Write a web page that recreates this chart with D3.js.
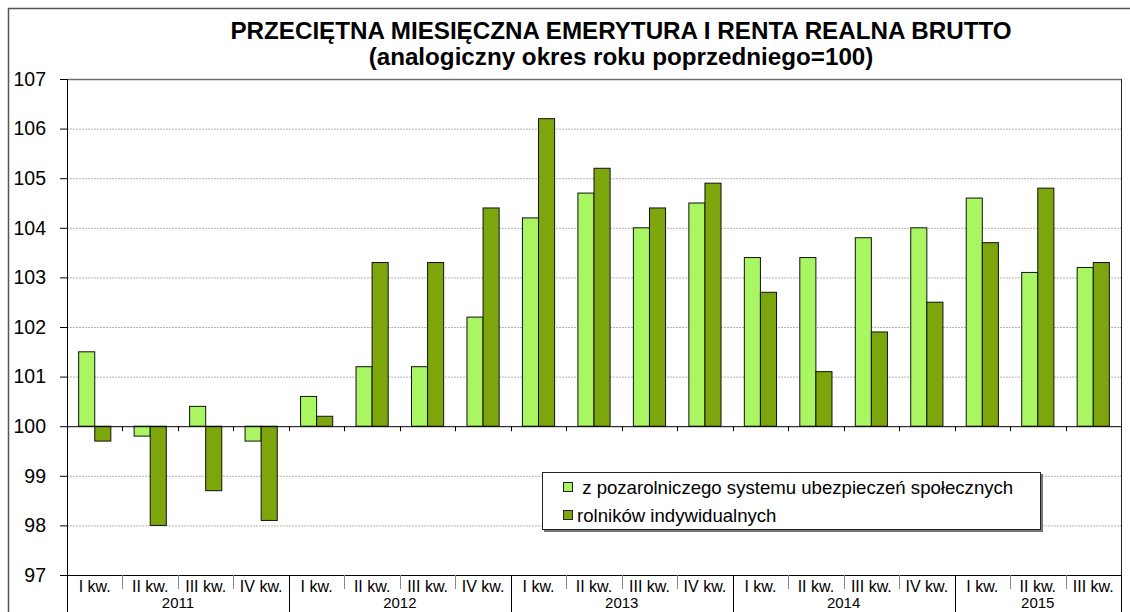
<!DOCTYPE html>
<html>
<head>
<meta charset="utf-8">
<script src="https://cdn.jsdelivr.net/npm/d3@7"></script>
<style>
  body { margin: 0; background: #fff; }
  svg { font-family: "Liberation Sans", Arial, sans-serif; }
</style>
</head>
<body>
<svg id="chart" width="1130" height="612"></svg>
<script>
// data
const quarters = ['I kw.', 'II kw.', 'III kw.', 'IV kw.', 'I kw.', 'II kw.', 'III kw.', 'IV kw.',
    'I kw.', 'II kw.', 'III kw.', 'IV kw.', 'I kw.', 'II kw.', 'III kw.', 'IV kw.',
    'I kw.', 'II kw.', 'III kw.']
const years = ['2011', '2012', '2013', '2014', '2015']
const yearSpans = [4, 4, 4, 4, 3]
const nonAgri = [101.5, 99.8, 100.4, 99.7, 100.6, 101.2, 101.2, 102.2, 104.2, 104.7, 104.0, 104.5,
    103.4, 103.4, 103.8, 104.0, 104.6, 103.1, 103.2]
const farmers = [99.7, 98.0, 98.7, 98.1, 100.2, 103.3, 103.3, 104.4, 106.2, 105.2, 104.4, 104.9,
    102.7, 101.1, 101.9, 102.5, 103.7, 104.8, 103.3]
const yTicks = [97, 98, 99, 100, 101, 102, 103, 104, 105, 106, 107]
const seriesNames = [' z pozarolniczego systemu ubezpieczeń społecznych', 'rolników indywidualnych']
const titleLines = ['PRZECIĘTNA MIESIĘCZNA EMERYTURA I RENTA REALNA BRUTTO',
    '(analogiczny okres roku poprzedniego=100)']

const colLight = '#a9f562', colDark = '#7da60c'

let svg = d3.select('#chart')
let pLeft = 67, pRight = 1121, pTop = 79, pBottom = 575

// outer frame
svg.append('rect')
    .attr('x', 8.5).attr('y', 8.5)
    .attr('width', 1130).attr('height', 620)
    .attr('fill', 'none').attr('stroke', '#555').attr('stroke-width', 1.5)

// title
svg.append('g').selectAll('text')
    .data(titleLines)
    .enter().append('text')
    .attr('x', 621).attr('y', (d, i) => 39 + i * 26)
    .attr('text-anchor', 'middle')
    .style('font-size', '24.2px').style('font-weight', 'bold')
    .text(d => d)

let x = d3.scaleBand().domain(d3.range(quarters.length)).range([pLeft, pRight])
let y = d3.scaleLinear().domain([97, 107]).range([pBottom, pTop])

// gridlines
svg.append('g').selectAll('line')
    .data(yTicks.filter(d => d != 97 && d != 107 && d != 100))
    .enter().append('line')
    .attr('x1', pLeft).attr('x2', pRight)
    .attr('y1', d => y(d) + 0.5).attr('y2', d => y(d) + 0.5)
    .attr('stroke', '#b4b4b4').attr('stroke-dasharray', '2,1')

// plot frame top / right
svg.append('line').attr('x1', pLeft).attr('x2', pRight).attr('y1', pTop + 0.5).attr('y2', pTop + 0.5)
    .attr('stroke', '#707070').attr('stroke-width', 1.5)
svg.append('line').attr('x1', pRight + 0.5).attr('x2', pRight + 0.5).attr('y1', pTop).attr('y2', pBottom)
    .attr('stroke', '#222')

// bars
let bw = x.bandwidth() * 0.29
let off = (x.bandwidth() - 2 * bw) / 2
let series = [nonAgri, farmers]
series.forEach((vals, s) => {
    svg.append('g').selectAll('rect')
        .data(vals)
        .enter().append('rect')
        .attr('x', (d, i) => x(i) + off + s * bw)
        .attr('y', d => y(Math.max(d, 100)))
        .attr('width', bw)
        .attr('height', d => Math.abs(y(d) - y(100)))
        .attr('fill', s == 0 ? colLight : colDark)
        .attr('stroke', '#111').attr('stroke-width', 1)
})

// x axis at 100 with ticks, no labels
let gx = svg.append('g')
    .attr('transform', 'translate(0,' + y(100) + ')')
gx.append('line').attr('x1', pLeft).attr('x2', pRight).attr('y1', 0.5).attr('y2', 0.5).attr('stroke', '#000')
gx.selectAll('.tk')
    .data(d3.range(1, quarters.length))
    .enter().append('line')
    .attr('x1', d => Math.round(x(d)) + 0.5).attr('x2', d => Math.round(x(d)) + 0.5)
    .attr('y1', 0).attr('y2', 5)
    .attr('stroke', '#000')

// y axis
let yAxis = d3.axisLeft(y).tickValues(yTicks).tickSize(7).tickFormat(d3.format('d'))
let gy = svg.append('g')
    .attr('transform', 'translate(' + pLeft + ',0)')
    .call(yAxis)
gy.select('.domain').attr('stroke', '#000')
gy.selectAll('text').style('font-size', '19.5px').attr('x', -21).attr('fill', '#000')
    .style('font-family', '"Liberation Sans", Arial, sans-serif')

// bottom category box
svg.append('line').attr('x1', pLeft).attr('x2', pRight).attr('y1', pBottom + 0.5).attr('y2', pBottom + 0.5)
    .attr('stroke', '#000')
svg.append('g').selectAll('line')
    .data(d3.range(1, quarters.length))
    .enter().append('line')
    .attr('x1', d => Math.round(x(d)) + 0.5).attr('x2', d => Math.round(x(d)) + 0.5)
    .attr('y1', pBottom).attr('y2', pBottom + 14)
    .attr('stroke', '#888')
svg.append('g').selectAll('text')
    .data(quarters)
    .enter().append('text')
    .attr('x', (d, i) => x(i) + x.bandwidth() / 2)
    .attr('y', pBottom + 17)
    .attr('text-anchor', 'middle')
    .style('font-size', '16px')
    .text(d => d)

let yearStarts = yearSpans.map((d, i) => d3.sum(yearSpans.slice(0, i)))
svg.append('g').selectAll('line')
    .data(yearStarts.concat([quarters.length]))
    .enter().append('line')
    .attr('x1', d => (d < quarters.length ? Math.round(x(d)) : pRight) + 0.5)
    .attr('x2', d => (d < quarters.length ? Math.round(x(d)) : pRight) + 0.5)
    .attr('y1', pBottom).attr('y2', 612)
    .attr('stroke', '#000')
svg.append('g').selectAll('text')
    .data(years)
    .enter().append('text')
    .attr('x', (d, i) => x(yearStarts[i]) + yearSpans[i] * x.step() / 2)
    .attr('y', 608)
    .attr('text-anchor', 'middle')
    .style('font-size', '15px')
    .text(d => d)

// legend
let lg = svg.append('g').attr('transform', 'translate(542,472)')
lg.append('rect').attr('x', 2).attr('y', 2).attr('width', 499).attr('height', 58).attr('fill', '#777')
lg.append('rect').attr('x', 0.5).attr('y', 0.5).attr('width', 498).attr('height', 57)
    .attr('fill', '#fff').attr('stroke', '#222')
let items = lg.selectAll('.item')
    .data(seriesNames)
    .enter().append('g')
    .attr('transform', (d, i) => 'translate(0,' + (i * 28) + ')')
items.append('rect')
    .attr('x', 21.5).attr('y', 10.5).attr('width', 9).attr('height', 9)
    .attr('fill', (d, i) => i == 0 ? colLight : colDark)
    .attr('stroke', '#222')
items.append('text')
    .attr('x', 35).attr('y', 21.5)
    .attr('xml:space', 'preserve')
    .style('white-space', 'pre')
    .style('font-size', '18.6px')
    .text(d => d)
</script>
</body>
</html>
